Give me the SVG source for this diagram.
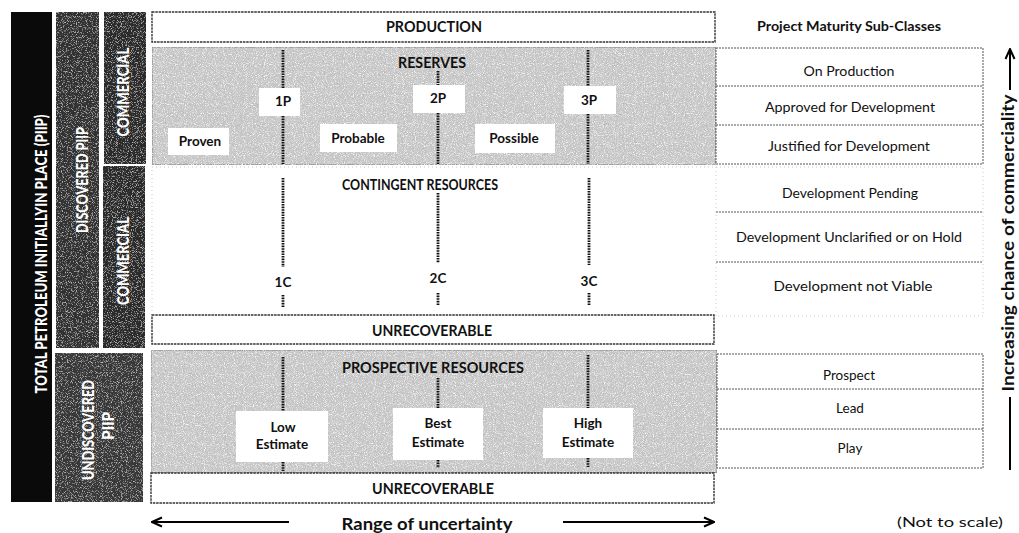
<svg xmlns="http://www.w3.org/2000/svg" width="1019" height="533" viewBox="0 0 1019 533">
<defs>
<style>
.hdr{font-family:Lato,"Liberation Sans",sans-serif;font-weight:bold;font-size:15px;fill:#111;text-anchor:middle}
.lbl{font-family:Lato,"Liberation Sans",sans-serif;font-weight:bold;font-size:13.5px;fill:#111;text-anchor:middle}
.sub{font-family:Lato,"Liberation Sans",sans-serif;font-size:13.5px;fill:#111;text-anchor:middle}
.side{font-family:Lato,"Liberation Sans",sans-serif;font-weight:900;font-size:16px;fill:#fff;text-anchor:middle}
.big{font-family:Lato,"Liberation Sans",sans-serif;font-weight:bold;font-size:17px;fill:#111;text-anchor:middle}
.dots{stroke:#111;stroke-width:2.8;stroke-dasharray:1.6 1;fill:none}
.wbox{fill:#fff}
.frame{fill:#fff;stroke:#333;stroke-width:1.4;stroke-dasharray:2.5 0.8}
.gray{fill:#c8c8c8;stroke:#777;stroke-width:1;filter:url(#grainG)}
.row{fill:none;stroke:#555;stroke-width:1;stroke-dasharray:2 1}
.faint{fill:none;stroke:#bbb;stroke-width:0.8;stroke-dasharray:1 3}
.arr{stroke:#000;stroke-width:2;fill:none}
</style>
<filter id="grainG" x="0" y="0" width="1" height="1">
<feTurbulence type="fractalNoise" baseFrequency="1.1" numOctaves="1" seed="3" result="t1"/>
<feColorMatrix in="t1" type="matrix" values="0 0 0 0 0.45  0 0 0 0 0.45  0 0 0 0 0.45  3 0 0 0 -1.55" result="d1"/>
<feComposite in="d1" in2="SourceGraphic" operator="in" result="dk"/>
<feTurbulence type="fractalNoise" baseFrequency="1.1" numOctaves="1" seed="11" result="t2"/>
<feColorMatrix in="t2" type="matrix" values="0 0 0 0 1  0 0 0 0 1  0 0 0 0 1  3 0 0 0 -1.5" result="d2"/>
<feComposite in="d2" in2="SourceGraphic" operator="in" result="lt"/>
<feMerge><feMergeNode in="SourceGraphic"/><feMergeNode in="dk"/><feMergeNode in="lt"/></feMerge>
</filter>
<filter id="grainW" x="0" y="0" width="1" height="1">
<feTurbulence type="fractalNoise" baseFrequency="1.2" numOctaves="1" seed="5" result="t"/>
<feColorMatrix in="t" type="matrix" values="0 0 0 0 0.7  0 0 0 0 0.7  0 0 0 0 0.7  3 0 0 0 -1.6" result="d"/>
<feComposite in="d" in2="SourceGraphic" operator="in" result="w"/>
<feMerge><feMergeNode in="SourceGraphic"/><feMergeNode in="w"/></feMerge>
</filter>
<marker id="chev" viewBox="0 0 12 12" refX="11" refY="6" markerWidth="12" markerHeight="12" markerUnits="userSpaceOnUse" orient="auto-start-reverse">
<path d="M1,1.5 L11,6 L1,10.5" fill="none" stroke="#000" stroke-width="2"/>
</marker>
</defs>
<rect width="1019" height="533" fill="#fff"/>

<!-- left classification columns -->
<g id="tpiip">
<rect x="11" y="12" width="41" height="490" fill="#0a0a0a"/>
<text class="side" font-size="16" transform="translate(47,254) rotate(-90)" textLength="279" lengthAdjust="spacingAndGlyphs">TOTAL PETROLEUM INITIALLYIN PLACE (PIIP)</text>
</g>
<g id="discovered">
<rect x="56" y="12" width="43" height="336" fill="#333" filter="url(#grainW)"/>
<text class="side" transform="translate(88,180) rotate(-90)" textLength="106" lengthAdjust="spacingAndGlyphs">DISCOVERED PIIP</text>
</g>
<g id="commercial">
<rect x="104" y="12" width="42" height="152" fill="#2a2a2a" filter="url(#grainW)"/>
<text class="side" transform="translate(129,92) rotate(-90)" textLength="89" lengthAdjust="spacingAndGlyphs">COMMERCIAL</text>
</g>
<g id="commercial2">
<rect x="103" y="166" width="42" height="182" fill="#2a2a2a" filter="url(#grainW)"/>
<text class="side" transform="translate(129,261) rotate(-90)" textLength="88" lengthAdjust="spacingAndGlyphs">COMMERCIAL</text>
</g>
<g id="undiscovered">
<rect x="55" y="353" width="88" height="149" fill="#383838" filter="url(#grainW)"/>
<text class="side" transform="translate(94,430) rotate(-90)" textLength="100" lengthAdjust="spacingAndGlyphs">UNDISCOVERED</text>
<text class="side" transform="translate(114,426) rotate(-90)" textLength="28" lengthAdjust="spacingAndGlyphs">PIIP</text>
</g>

<!-- main resource boxes -->
<g id="production">
<rect class="frame" x="152" y="12" width="563" height="30"/>
<text class="hdr" x="434" y="32" textLength="96" lengthAdjust="spacingAndGlyphs">PRODUCTION</text>
</g>
<g id="reserves">
<rect class="gray" x="152" y="47" width="564" height="118"/>
<text class="hdr" x="432" y="68" textLength="68" lengthAdjust="spacingAndGlyphs">RESERVES</text>
</g>
<g id="contingent">
<rect x="152" y="167" width="564" height="148" fill="#fff"/>
<rect class="faint" x="152" y="167" width="831" height="149"/>
<text class="hdr" x="420" y="190" textLength="156" lengthAdjust="spacingAndGlyphs">CONTINGENT RESOURCES</text>
</g>
<g id="unrecoverable1">
<rect class="frame" x="152" y="315" width="562" height="29"/>
<text class="hdr" x="432" y="336" textLength="120" lengthAdjust="spacingAndGlyphs">UNRECOVERABLE</text>
</g>
<g id="prospective">
<rect class="gray" x="151" y="350" width="566" height="123"/>
<text class="hdr" x="433" y="373" textLength="182" lengthAdjust="spacingAndGlyphs">PROSPECTIVE RESOURCES</text>
</g>
<g id="unrecoverable2">
<rect class="frame" x="151" y="473" width="563" height="30"/>
<text class="hdr" x="433" y="494" textLength="122" lengthAdjust="spacingAndGlyphs">UNRECOVERABLE</text>
</g>

<!-- dotted uncertainty dividers -->
<g id="dividers">
<line class="dots" x1="283" y1="50" x2="283" y2="88"/>
<line class="dots" x1="283" y1="116" x2="283" y2="164"/>
<line class="dots" x1="438" y1="71" x2="438" y2="85"/>
<line class="dots" x1="438" y1="113" x2="438" y2="164"/>
<line class="dots" x1="588" y1="50" x2="588" y2="86"/>
<line class="dots" x1="588" y1="114" x2="588" y2="164"/>
<line class="dots" x1="283" y1="178" x2="283" y2="267"/>
<line class="dots" x1="283" y1="295" x2="283" y2="307"/>
<line class="dots" x1="438" y1="193" x2="438" y2="263"/>
<line class="dots" x1="438" y1="293" x2="438" y2="306"/>
<line class="dots" x1="589" y1="178" x2="589" y2="265"/>
<line class="dots" x1="589" y1="293" x2="589" y2="306"/>
<line class="dots" x1="283" y1="357" x2="283" y2="411"/>
<line class="dots" x1="283" y1="462" x2="283" y2="471"/>
<line class="dots" x1="438" y1="378" x2="438" y2="408"/>
<line class="dots" x1="438" y1="460" x2="438" y2="468"/>
<line class="dots" x1="588" y1="355" x2="588" y2="408"/>
<line class="dots" x1="588" y1="458" x2="588" y2="467"/>
</g>

<!-- estimate labels -->
<g id="p1"><rect class="wbox" x="259" y="88" width="41" height="28"/><text class="lbl" x="283" y="106">1P</text></g>
<g id="p2"><rect class="wbox" x="413" y="85" width="52" height="28"/><text class="lbl" x="438" y="103">2P</text></g>
<g id="p3"><rect class="wbox" x="564" y="86" width="52" height="28"/><text class="lbl" x="589" y="105">3P</text></g>
<g id="proven"><rect class="wbox" x="168" y="128" width="61" height="27"/><text class="lbl" x="200" y="146">Proven</text></g>
<g id="probable"><rect class="wbox" x="320" y="124" width="77" height="28"/><text class="lbl" x="358" y="143">Probable</text></g>
<g id="possible"><rect class="wbox" x="475" y="124" width="80" height="29"/><text class="lbl" x="514" y="143">Possible</text></g>
<g id="c1"><text class="lbl" x="283" y="287">1C</text></g>
<g id="c2"><text class="lbl" x="438" y="283">2C</text></g>
<g id="c3"><text class="lbl" x="589" y="286">3C</text></g>
<g id="low"><rect class="wbox" x="236" y="411" width="92" height="51"/><text class="lbl" x="283" y="432">Low</text><text class="lbl" x="282" y="449">Estimate</text></g>
<g id="best"><rect class="wbox" x="393" y="408" width="90" height="52"/><text class="lbl" x="438" y="428">Best</text><text class="lbl" x="438" y="447">Estimate</text></g>
<g id="high"><rect class="wbox" x="543" y="408" width="90" height="50"/><text class="lbl" x="588" y="428">High</text><text class="lbl" x="588" y="447">Estimate</text></g>

<!-- project maturity sub-classes -->
<g id="subclasses">
<text class="lbl" font-size="13.5" x="849" y="31" textLength="184" lengthAdjust="spacingAndGlyphs">Project Maturity Sub-Classes</text>
<rect class="row" x="716" y="48" width="267" height="116"/>
<line class="row" x1="716" y1="86" x2="983" y2="86"/>
<line class="row" x1="716" y1="125" x2="983" y2="125"/>
<text class="sub" x="849" y="76" textLength="91" lengthAdjust="spacingAndGlyphs">On Production</text>
<text class="sub" x="850" y="112" textLength="170" lengthAdjust="spacingAndGlyphs">Approved for Development</text>
<text class="sub" x="849" y="151" textLength="162" lengthAdjust="spacingAndGlyphs">Justified for Development</text>
<line class="row" x1="716" y1="212" x2="983" y2="212" stroke="#333"/>
<line class="row" x1="716" y1="262" x2="983" y2="262"/>
<line class="faint" x1="716" y1="167" x2="716" y2="316"/>
<text class="sub" x="850" y="198" textLength="136" lengthAdjust="spacingAndGlyphs">Development Pending</text>
<text class="sub" x="849" y="242" textLength="226" lengthAdjust="spacingAndGlyphs">Development Unclarified or on Hold</text>
<text class="sub" x="853" y="291" textLength="159" lengthAdjust="spacingAndGlyphs">Development not Viable</text>
<rect class="row" x="717" y="354" width="266" height="114" stroke="#999"/>
<line class="row" x1="717" y1="389" x2="983" y2="389"/>
<line class="row" x1="717" y1="429" x2="983" y2="429"/>
<text class="sub" x="849" y="380">Prospect</text>
<text class="sub" x="850" y="413">Lead</text>
<text class="sub" x="850" y="453">Play</text>
<text class="sub" x="950" y="527" textLength="106" lengthAdjust="spacingAndGlyphs">(Not to scale)</text>
</g>

<!-- axis arrows -->
<g id="connectors">
<line class="arr" x1="289" y1="522" x2="152" y2="522" marker-end="url(#chev)"/>
<line class="arr" x1="563" y1="522" x2="714" y2="522" marker-end="url(#chev)"/>
<line class="arr" x1="1010" y1="90" x2="1010" y2="49" marker-end="url(#chev)"/>
<line class="arr" x1="1010" y1="397" x2="1010" y2="470"/>
</g>
<g id="axis-labels">
<text class="big" x="427" y="530" textLength="171" lengthAdjust="spacingAndGlyphs">Range of uncertainty</text>
<text class="big" font-size="16.5" transform="translate(1014,243) rotate(-90)" textLength="297" lengthAdjust="spacingAndGlyphs">Increasing chance of commerciality</text>
</g>
</svg>
